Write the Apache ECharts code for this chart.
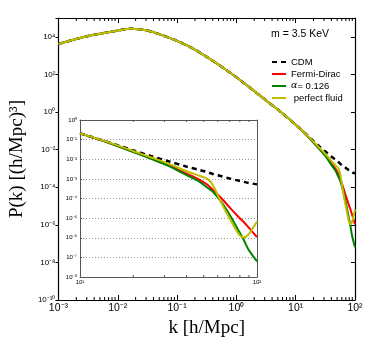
<!DOCTYPE html>
<html>
<head>
<meta charset="utf-8">
<script src="https://cdn.jsdelivr.net/npm/echarts@6/dist/echarts.min.js"></script>
<style>
  html, body { margin: 0; padding: 0; background: #fff; }
  #chart { width: 374px; height: 354px; }
</style>
</head>
<body>
<div id="chart"></div>
<script>
// shared part of all spectra (k < 10 h/Mpc)
var kLow = [0.001, 0.00316, 0.01, 0.0168, 0.0316, 0.05, 0.0708, 0.1, 0.17, 0.316, 0.63, 1.0, 2.24, 3.16, 5.5];
var pLow = [4170, 11000, 21400, 26900, 21400, 13800, 9330, 6030, 2750, 851, 200, 70.8, 9.8, 4.17, 1.05];

// small scales, where the models split
var kHigh = [10, 14.1, 20, 25.1, 31.6, 39.8, 47.5, 52.5, 56.2, 63.1, 70.8, 79.4, 84.1, 89.1, 100];
var pCDM = [0.209, 0.0794, 0.0282, 0.0148, 0.00794, 0.00427, 0.00282, 0.00219, 0.00178, 0.00135, 0.00102, 0.000794, 0.000708, 0.000631, 0.000525];
var pFermi = [0.209, 0.0759, 0.024, 0.0112, 0.00501, 0.00191, 0.000891, 0.000501, 0.000282, 0.0001, 3.16e-5, 1.05e-5, 6.31e-6, 3.55e-6, 1.07e-6];
var pAlpha = [0.209, 0.0759, 0.0234, 0.0107, 0.00457, 0.00158, 0.000708, 0.000355, 0.000224, 6.31e-5, 1.26e-5, 2.0e-6, 7.94e-7, 2.69e-7, 6.31e-8];
var pFluid = [0.209, 0.0794, 0.0263, 0.0126, 0.00603, 0.00251, 0.00141, 0.001, 0.000501, 5.62e-5, 7.94e-6, 1.41e-6, 1.07e-6, 1.41e-6, 6.76e-6];

var names = ['CDM', 'Fermi-Dirac', 'α= 0.126', ' perfect fluid'];
var colors = ['#000000', '#ff0000', '#008000', '#bfbf00'];

// minor tick positions (2..9 in every decade)
var minorMult = [2, 3, 4, 5, 6, 7, 8, 9];
var mainDecades = [0.001, 0.01, 0.1, 1, 10];
var insetDecades = [10];

var supMap = {'-': '⁻', '0': '⁰', '1': '¹', '2': '²', '3': '³', '4': '⁴', '5': '⁵', '6': '⁶', '7': '⁷', '8': '⁸', '9': '⁹'};
function pow10Label(v) {
    var e = Math.round(Math.log10(v));
    return '10' + String(e).split('').map(function (c) { return supMap[c]; }).join('');
}
function pairs(ks, ps) {
    return ks.map(function (k, i) { return [k, ps[i]]; });
}
function minorTicks(decades) {
    var out = [];
    decades.forEach(function (d) {
        minorMult.forEach(function (m) { out.push([m * d]); });
    });
    return out;
}

var highSets = [pCDM, pFermi, pAlpha, pFluid];
var series = [];
highSets.forEach(function (p, i) {
    var ls = { color: colors[i], width: i == 0 ? 2.5 : 2 };
    if (i == 0) ls.type = [5, 4];
    series.push({
        name: names[i], type: 'line', xAxisIndex: 0, yAxisIndex: 0,
        data: pairs(kLow.concat(kHigh), pLow.concat(p)),
        symbol: 'none', smooth: 0.3, lineStyle: ls, itemStyle: { color: colors[i] }
    });
});
highSets.forEach(function (p, i) {
    var ls = { color: colors[i], width: i == 0 ? 2.5 : 2 };
    if (i == 0) ls.type = [5, 4];
    series.push({
        name: names[i], type: 'line', xAxisIndex: 2, yAxisIndex: 2,
        data: pairs(kHigh, p),
        symbol: 'none', smooth: 0.3, lineStyle: ls, itemStyle: { color: colors[i] }
    });
});

// minor ticks on the log k axes, bottom and top
function tickRenderer(yMin, yMax, len, color) {
    return function (params, api) {
        var b = api.coord([api.value(0), yMin]);
        var t = api.coord([api.value(0), yMax]);
        return {
            type: 'group',
            children: [
                { type: 'line', shape: { x1: b[0], y1: b[1], x2: b[0], y2: b[1] - len }, style: { stroke: color, lineWidth: 1 } },
                { type: 'line', shape: { x1: t[0], y1: t[1], x2: t[0], y2: t[1] + len }, style: { stroke: color, lineWidth: 1 } }
            ]
        };
    };
}
series.push({
    type: 'custom', xAxisIndex: 0, yAxisIndex: 0, silent: true, clip: false,
    encode: { x: 0 }, data: minorTicks(mainDecades),
    renderItem: tickRenderer(1e-10, 1e5, 3, '#000')
});
series.push({
    type: 'custom', xAxisIndex: 2, yAxisIndex: 2, silent: true, clip: false, z: 5,
    encode: { x: 0 }, data: minorTicks(insetDecades),
    renderItem: tickRenderer(1e-8, 1, 2, '#555')
});

var font = 'Liberation Sans';
var axisLine = { show: true, lineStyle: { color: '#000', width: 1.2 } };
var insetLine = { show: true, lineStyle: { color: '#555', width: 1 } };

var chart = echarts.init(document.getElementById('chart'), null, { renderer: 'canvas' });
var option = {
    animation: false,
    backgroundColor: '#fff',
    title: {
        text: 'm = 3.5 KeV', left: 266, top: 24,
        textStyle: { fontFamily: font, fontSize: 10.5, fontWeight: 'normal', color: '#000' }
    },
    legend: {
        data: names, orient: 'vertical', left: 266, top: 52,
        itemWidth: 14, itemHeight: 6, itemGap: 2,
        itemStyle: { opacity: 0 },
        textStyle: {
            fontFamily: font, fontSize: 9.5, color: '#000', lineHeight: 10,
            rich: { a: { fontFamily: 'DejaVu Serif', fontStyle: 'italic', fontSize: 9.5 }, b: { fontFamily: font, fontSize: 9.5 } }
        },
        formatter: function (n) { return n.indexOf('α') == 0 ? '{a|α}{b|= 0.126}' : n; }
    },
    grid: [
        { left: 57, top: 18, width: 298, height: 282 },
        { left: 80, top: 120, width: 177, height: 157, show: true, backgroundColor: '#fff', borderWidth: 0 }
    ],
    xAxis: [
        {
            type: 'log', gridIndex: 0, min: 0.001, max: 100, interval: 1,
            name: 'k [h/Mpc]', nameLocation: 'middle', nameGap: 14,
            nameTextStyle: { fontFamily: 'Liberation Serif', fontSize: 19, color: '#000' },
            axisLine: axisLine,
            axisTick: { inside: true, length: 5, lineStyle: { color: '#000' } },
            axisLabel: { formatter: pow10Label, fontFamily: font, fontSize: 10.5, color: '#000', margin: 3 },
            splitLine: { show: false }
        },
        {
            type: 'log', gridIndex: 0, position: 'top', min: 0.001, max: 100, interval: 1,
            axisLine: axisLine,
            axisTick: { inside: true, length: 5, lineStyle: { color: '#000' } },
            axisLabel: { show: false }, splitLine: { show: false }
        },
        {
            type: 'log', gridIndex: 1, min: 10, max: 100, interval: 1,
            axisLine: insetLine,
            axisTick: { inside: true, length: 3, lineStyle: { color: '#555' } },
            axisLabel: { formatter: pow10Label, fontFamily: font, fontSize: 6, color: '#000', margin: 2 },
            splitLine: { show: false }
        },
        {
            type: 'log', gridIndex: 1, position: 'top', min: 10, max: 100, interval: 1,
            axisLine: insetLine, axisTick: { show: false },
            axisLabel: { show: false }, splitLine: { show: false }
        }
    ],
    yAxis: [
        {
            type: 'log', gridIndex: 0, min: 1e-10, max: 1e5, interval: 2,
            name: 'P(k) [(h/Mpc)³]', nameLocation: 'middle', nameGap: 24,
            nameTextStyle: { fontFamily: 'Liberation Serif', fontSize: 19, color: '#000' },
            axisLine: axisLine,
            axisTick: { inside: false, length: 3, lineStyle: { color: '#000' } },
            axisLabel: {
                formatter: function (v) {
                    var e = Math.round(Math.log10(v));
                    return e % 2 == 0 ? pow10Label(v) : '';
                },
                fontFamily: font, fontSize: 8, color: '#000', margin: 3
            },
            splitLine: { show: false }
        },
        {
            type: 'log', gridIndex: 0, position: 'right', min: 1e-10, max: 1e5, interval: 2,
            axisLine: axisLine,
            axisTick: { inside: true, length: 4, lineStyle: { color: '#000' } },
            axisLabel: { show: false }, splitLine: { show: false }
        },
        {
            type: 'log', gridIndex: 1, min: 1e-8, max: 1, interval: 1,
            axisLine: insetLine,
            axisTick: { inside: true, length: 2, lineStyle: { color: '#555' } },
            axisLabel: { formatter: pow10Label, fontFamily: font, fontSize: 6, color: '#000', margin: 3 },
            splitLine: { show: true, lineStyle: { color: '#999', type: [1, 2], width: 1 } }
        },
        {
            type: 'log', gridIndex: 1, position: 'right', min: 1e-8, max: 1, interval: 1,
            axisLine: insetLine, axisTick: { show: false },
            axisLabel: { show: false }, splitLine: { show: false }
        }
    ],
    series: series
};
chart.setOption(option);
</script>
</body>
</html>
